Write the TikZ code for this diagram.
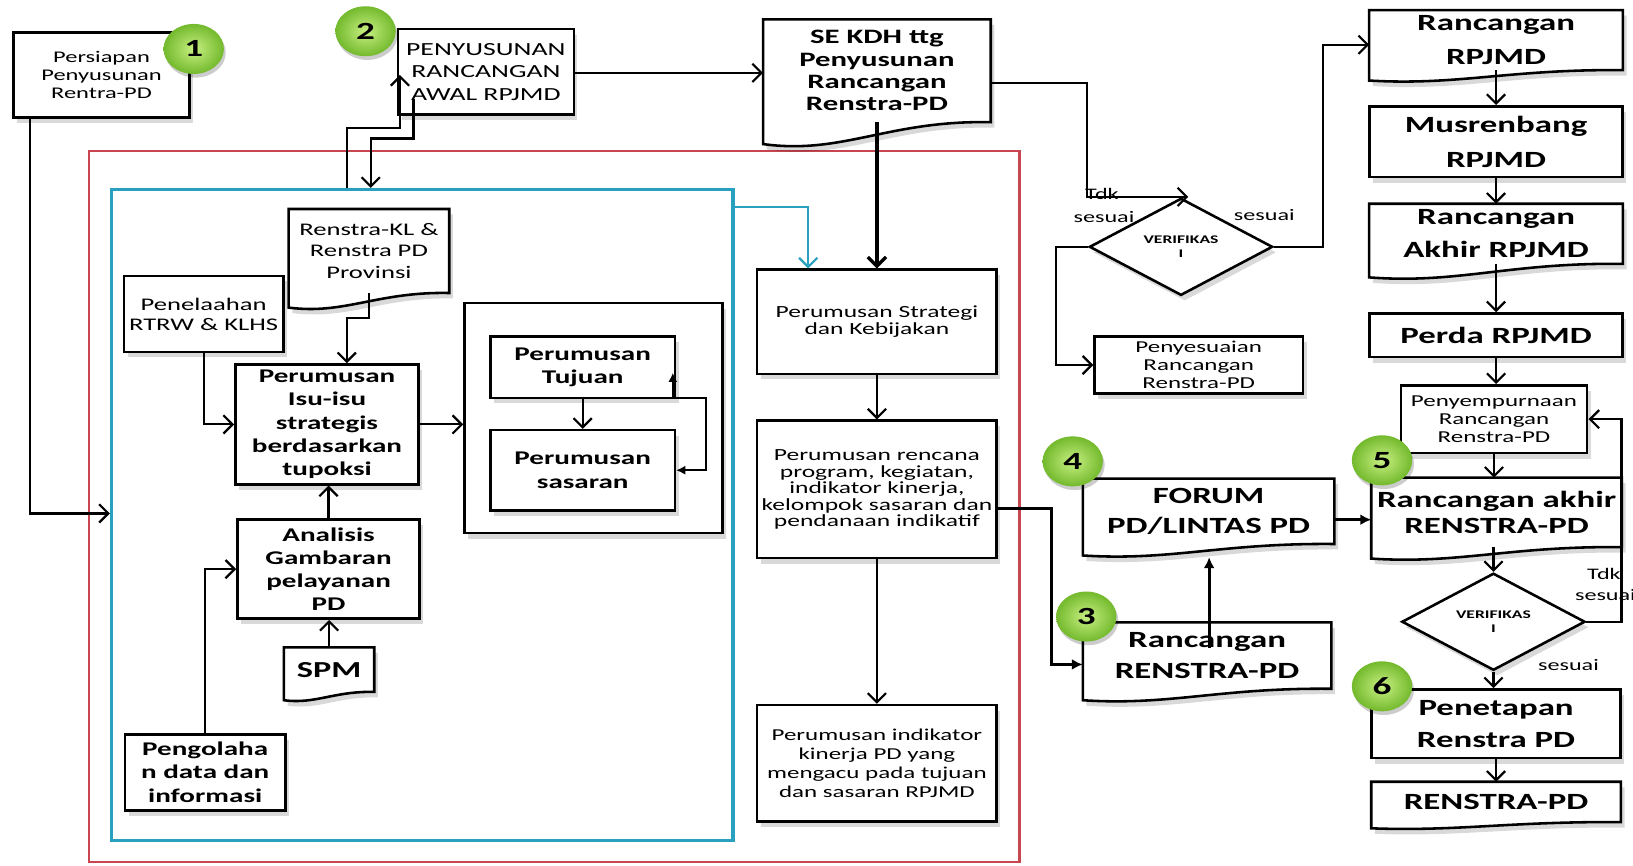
\documentclass[tikz,border=0pt]{standalone}
\usepackage{fontspec}
\setmainfont{Carlito}[FakeStretch=1.5]
\usetikzlibrary{arrows.meta,calc,shapes.geometric,shadows}
\pgfdeclarelayer{frames}
\pgfdeclarelayer{docs}
\pgfsetlayers{frames,docs,main}
\definecolor{redc}{RGB}{200,70,80}
\definecolor{cyanc}{RGB}{40,160,190}
\definecolor{greenin}{RGB}{200,240,130}
\definecolor{greenout}{RGB}{115,185,45}
\tikzset{
  shd/.style={drop shadow={shadow xshift=2pt,shadow yshift=-3pt,opacity=0.15,fill=black}},
  box/.style={draw=black,line width=1.4pt,fill=white,shd,align=center,inner sep=0pt},
  doc/.style={align=center,inner sep=0pt},
  docline/.style={draw=black,line width=1.4pt,fill=white,shd},
  conn/.style={line width=1.2pt,-{Straight Barb[length=5pt,width=10pt]}},
  fconn/.style={line width=1.6pt,-{Latex[length=6pt,width=6pt]}},
  lconn/.style={line width=1.3pt,{Latex[length=5pt,width=5pt]}-{Latex[length=5pt,width=5pt]}},
  cconn/.style={draw=cyanc,line width=1.2pt,-{Straight Barb[length=5pt,width=10pt]}},
  redframe/.style={draw=redc,line width=1.2pt},
  cyanframe/.style={draw=cyanc,line width=1.8pt},
  decision/.style={diamond,draw=black,line width=1.4pt,fill=white,shd,inner sep=0pt,align=center,
     font=\bfseries\fontsize{6.4}{8}\selectfont},
  numc/.style={ellipse,minimum width=1.16cm,minimum height=0.96cm,inner sep=0pt,
     inner color=greenin,outer color=greenout,
     drop shadow={shadow xshift=1pt,shadow yshift=-2pt,opacity=0.2,fill=black},
     font=\bfseries\fontsize{13.5}{13.5}\selectfont},
  lbl/.style={inner sep=0pt,font=\fontsize{8.8}{10}\selectfont},
  fbig/.style={font=\bfseries\fontsize{12.7}{#1}\selectfont},
  fmid/.style={font=\bfseries\fontsize{10.6}{12.7}\selectfont},
}
\newcommand\docout[2]{%
  \begin{pgfonlayer}{docs}
  \draw[docline] ($(#1.south west)+(0,#2)$) -- (#1.north west) -- (#1.north east) -- (#1.south east)
    .. controls ($(#1.south west)!0.55!(#1.south east)+(0,-0.1*#2)$) and ($(#1.south west)!0.35!(#1.south east)+(0,1.5*#2)$) .. ($(#1.south west)+(0,#2)$) -- cycle;
  \end{pgfonlayer}}
\begin{document}
\begin{tikzpicture}[x=0.02cm,y=-0.02cm]
\useasboundingbox (0,0) rectangle (1568,831);
\begin{pgfonlayer}{frames}
\fill[white] (0,0) rectangle (1568,831);
\node[redframe,minimum width=17.88cm,minimum height=13.66cm] (redf) at (532,486.5) {};
\node[cyanframe,minimum width=11.94cm,minimum height=12.5cm] (cyanf) at (405.5,494.5) {};
\end{pgfonlayer}

% top left
\node[box,minimum width=3.38cm,minimum height=1.64cm,font=\fontsize{8.9}{10}\selectfont] (b1) at (97.5,72) {Persiapan\\Penyusunan\\Rentra-PD};
\node[box,minimum width=3.38cm,minimum height=1.64cm,font=\fontsize{10.1}{12.3}\selectfont] (b2) at (466.5,69) {PENYUSUNAN\\RANCANGAN\\AWAL RPJMD};
\node[doc,minimum width=4.36cm,minimum height=1.96cm,font=\bfseries\fontsize{11.2}{12.2}\selectfont] (se) at (842,68) {SE KDH ttg\\Penyusunan\\Rancangan\\Renstra-PD};
\docout{se}{21}

% inside cyan
\node[doc,minimum width=3.07cm,minimum height=1.6cm,font=\fontsize{9.7}{11.8}\selectfont] (rkl) at (354.25,241) {Renstra-KL \&\\Renstra PD\\Provinsi};
\docout{rkl}{14}
\node[box,minimum width=3.06cm,minimum height=1.46cm,font=\fontsize{9.7}{10.9}\selectfont] (pen) at (195.5,301.5) {Penelaahan\\RTRW \& KLHS};
\node[box,fmid,minimum width=3.52cm,minimum height=2.3cm] (isu) at (314,407.5) {Perumusan\\Isu-isu\\strategis\\berdasarkan\\tupoksi};
\node[box,minimum width=4.96cm,minimum height=4.42cm] (cont) at (570,401.5) {};
\node[box,fmid,minimum width=3.54cm,minimum height=1.18cm] (tuj) at (559.5,352.5) {Perumusan\\Tujuan};
\node[box,fmid,minimum width=3.54cm,minimum height=1.54cm] (sas) at (559.5,451.5) {Perumusan\\sasaran};
\node[box,fmid,minimum width=3.5cm,minimum height=1.9cm] (ana) at (315.5,546.5) {Analisis\\Gambaran\\pelayanan\\PD};
\node[doc,minimum width=1.72cm,minimum height=0.84cm,font=\bfseries\fontsize{12.5}{14}\selectfont] (spm) at (316,643) {SPM};
\docout{spm}{8}
\node[box,fmid,minimum width=3.08cm,minimum height=1.46cm] (pgl) at (197,741.5) {Pengolaha\\n data dan\\informasi};

% middle column
\node[box,minimum width=4.6cm,minimum height=2.0cm,font=\fontsize{9.3}{9.6}\selectfont] (str) at (842,309) {Perumusan Strategi\\dan Kebijakan};
\node[box,minimum width=4.6cm,minimum height=2.64cm,font=\fontsize{9.3}{9}\selectfont] (ren) at (842,470) {Perumusan rencana\\program, kegiatan,\\indikator kinerja,\\kelompok sasaran dan\\pendanaan indikatif};
\node[box,minimum width=4.6cm,minimum height=2.24cm,font=\fontsize{9.1}{10.4}\selectfont] (ind) at (842,733) {Perumusan indikator\\kinerja PD yang\\mengacu pada tujuan\\dan sasaran RPJMD};

% verification 1
\node[decision,minimum width=3.52cm,minimum height=1.4cm] (v1) at (1134,237) {VERIFIKAS\\I};
\node[box,minimum width=4.0cm,minimum height=1.1cm,font=\fontsize{9.1}{10}\selectfont] (pny) at (1151,350.5) {Penyesuaian\\Rancangan\\Renstra-PD};

% right column
\node[doc,fbig=19,minimum width=4.86cm,minimum height=1.14cm] (rr) at (1436.5,38.5) {Rancangan\\RPJMD};
\docout{rr}{10}
\node[box,fbig=19,minimum width=4.86cm,minimum height=1.36cm] (mus) at (1436.5,136) {Musrenbang\\RPJMD};
\node[doc,fbig=18,minimum width=4.86cm,minimum height=1.14cm] (rar) at (1436.5,224.5) {Rancangan\\Akhir RPJMD};
\docout{rar}{13}
\node[box,fbig=15,minimum width=4.86cm,minimum height=0.84cm] (per) at (1436.5,322) {Perda RPJMD};
\node[box,minimum width=3.58cm,minimum height=1.3cm,font=\fontsize{9.1}{10}\selectfont] (pys) at (1434.5,402.5) {Penyempurnaan\\Rancangan\\Renstra-PD};
\node[doc,fbig=14.6,minimum width=4.8cm,minimum height=1.32cm] (rak) at (1437,492) {Rancangan akhir\\RENSTRA-PD};
\docout{rak}{11}
\node[decision,minimum width=3.52cm,minimum height=1.38cm] (v2) at (1434,597) {VERIFIKAS\\I};
\node[box,fbig=17.3,minimum width=4.78cm,minimum height=1.32cm] (pnt) at (1436.5,695) {Penetapan\\Renstra PD};
\node[doc,fbig=15,minimum width=4.78cm,minimum height=0.76cm] (rpd) at (1436.5,770) {RENSTRA-PD};
\docout{rpd}{6}
\node[doc,fbig=16.5,minimum width=4.82cm,minimum height=1.24cm] (frm) at (1160.5,491) {FORUM\\PD/LINTAS PD};
\docout{frm}{11}
\node[doc,fbig=17.3,minimum width=4.76cm,minimum height=1.26cm] (rrs) at (1159,629.5) {Rancangan\\RENSTRA-PD};
\docout{rrs}{11}

% connectors
\coordinate (p1) at (29,493);
\draw[conn] (b1.south -| p1) -- (p1) -- (p1 -| cyanf.west);
\coordinate (p2a) at (333,123); \coordinate (p2b) at (384,72);
\draw[conn] (cyanf.north -| p2a) -- (p2a) -| (p2b);
\coordinate (p3a) at (397,95); \coordinate (p3b) at (356,133);
\draw[conn] (p3a) |- (p3b) -- (p3b |- cyanf.north);
\coordinate (p4) at (0,70);
\draw[conn] (b2.east |- p4) -- (se.west |- p4);
\draw[conn,line width=1.8pt] (se.south) -- (str.north);
\coordinate (p5a) at (1044,80); \coordinate (tdkend) at (1141,189);
\draw[conn] (se.east |- p5a) -- (p5a) |- (tdkend);
\coordinate (p6) at (1270,43);
\draw[conn] (v1.east) -| (p6) -- (p6 -| rr.west);
\coordinate (p7) at (1014,237);
\draw[conn] (v1.west) -- (p7) |- (pny.west);
\draw[conn] (rr.south) -- (mus.north);
\draw[conn] (mus.south) -- (rar.north);
\draw[conn] (rar.south) -- (per.north);
\draw[conn] (per.south) -- (per.south |- pys.north);
\draw[conn] (pys.south) -- (pys.south |- rak.north);
\draw[conn] (rak.south -| v2.north) -- (v2.north);
\draw[conn] (v2.south) -- (v2.south |- pnt.north);
\draw[conn] (pnt.south) -- (rpd.north);
\coordinate (p8) at (1557,402.5);
\draw[conn] (v2.east) -| (p8) -- (pys.east);
\coordinate (p9) at (0,499);
\draw[fconn] (frm.east |- p9) -- (rak.west |- p9);
\coordinate (p10a) at (1161,622); \coordinate (p10b) at (1161,535);
\draw[fconn] (p10a) -- (p10b);
\coordinate (p11) at (1010,488); \coordinate (p11b) at (0,638);
\draw[fconn] (ren.east |- p11) -- (p11) |- (rrs.west |- p11b);
\draw[conn] (str.south) -- (ren.north);
\draw[conn] (ren.south) -- (ind.north);
\coordinate (p12) at (776,199);
\draw[cconn] (cyanf.east |- p12) -- (p12) -- (p12 |- str.north);
\coordinate (p13) at (333,305);
\draw[conn] (rkl.south) |- (p13) -- (p13 |- isu.north);
\draw[conn] (pen.south) |- (isu.west);
\draw[conn] (isu.east) -- (isu.east -| cont.west);
\draw[conn] (ana.north) -- (ana.north |- isu.south);
\draw[conn] (spm.north) -- (spm.north |- ana.south);
\draw[conn] (pgl.north) |- (ana.west);
\draw[conn] (tuj.south) -- (sas.north);
\coordinate (lpA) at (646,358); \coordinate (lpB) at (678,382);
\draw[lconn] (lpA) |- (lpB) |- (sas.east);

% labels
\node[lbl] (tdk1) at (1058,186) {Tdk};
\node[lbl] (ses1) at (1060,208) {sesuai};
\node[lbl] (ses2) at (1214,206) {sesuai};
\node[lbl] (tdk2) at (1540,551) {Tdk};
\node[lbl,anchor=west] (ses3) at (1512,571) {sesuai};
\node[lbl] (ses4) at (1506,639) {sesuai};

% numbered circles
\node[numc] (c1) at (186,47) {1};
\node[numc] (c2) at (351,30) {2};
\node[numc] (c3) at (1043,592) {3};
\node[numc] (c4) at (1030,443) {4};
\node[numc] (c5) at (1327,442) {5};
\node[numc] (c6) at (1327,659) {6};
\end{tikzpicture}
\end{document}
